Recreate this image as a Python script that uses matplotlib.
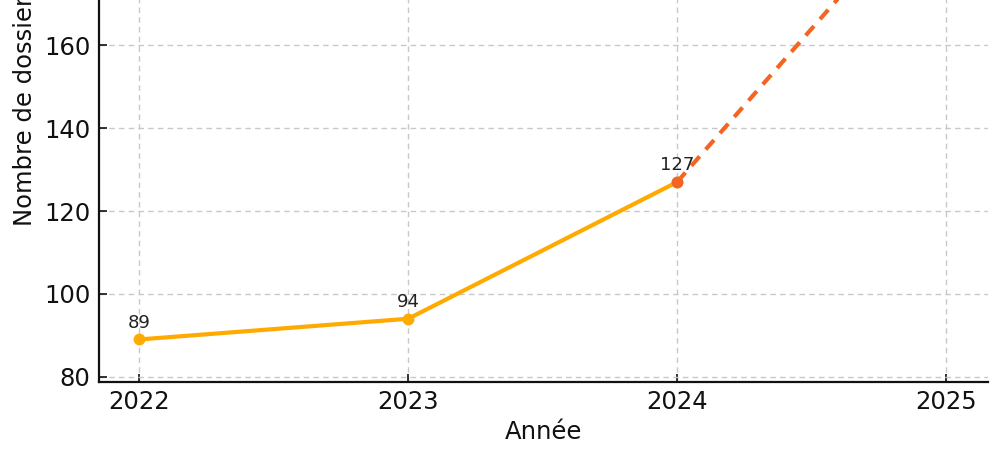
import matplotlib
matplotlib.use("Agg")
import matplotlib.pyplot as plt

years_actual = [2022, 2023, 2024]
values_actual = [89, 94, 127]
years_proj = [2024, 2025]
values_proj = [127, 201]
xticks = [2022, 2023, 2024, 2025]
yticks = [80, 100, 120, 140, 160, 180, 200]

c_actual = "#FFAA00"
c_proj = "#F26522"

fig = plt.figure(figsize=(10, 4.58), dpi=100)
ax = fig.add_axes([0.099, 0.1666, 0.8887, 1.2083])

ax.plot(years_proj, values_proj, color=c_proj, lw=3, ls=(0, (3, 2.2)), zorder=3)
ax.plot(years_actual, values_actual, color=c_actual, lw=3, marker="o", ms=7.5, zorder=4)
ax.plot([years_proj[0]], [values_proj[0]], color=c_proj, marker="o", ms=7.5, ls="none", zorder=5)

for x, y in zip(years_actual, values_actual):
    ax.annotate(str(y), (x, y), textcoords="offset points", xytext=(0, 5.5),
                ha="center", va="bottom", fontsize=13, color="#222222")

ax.set_xlim(2021.85, 2025.155)
ax.set_ylim(78.8, 212.4)
ax.set_xticks(xticks)
ax.set_xticklabels([str(t) for t in xticks])
ax.set_yticks(yticks)

ax.grid(True, ls=(0, (4, 3)), color="#c8c8c8", lw=1)
ax.set_axisbelow(True)

for s in ["top", "right"]:
    ax.spines[s].set_visible(False)
for s in ["left", "bottom"]:
    ax.spines[s].set_linewidth(1.6)
    ax.spines[s].set_color("#111111")

ax.tick_params(direction="in", length=6, width=1.2, labelsize=17.5, colors="#111111", pad=6)
ax.set_xlabel("Année", fontsize=17.5, color="#111111", labelpad=4.5)
ax.set_ylabel("Nombre de dossiers", fontsize=17.5, color="#111111", labelpad=5)

fig.savefig("out.png", dpi=100)
